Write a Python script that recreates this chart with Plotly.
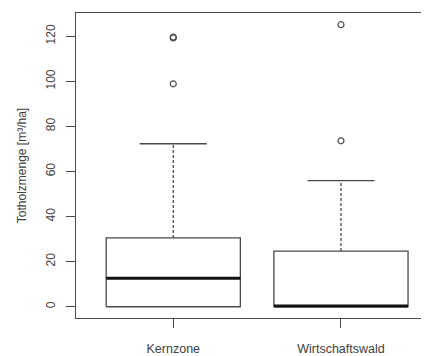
import plotly.graph_objects as go

categories = ["Kernzone", "Wirtschaftswald"]
q1_values = [0.0, 0.0]
medians = [12.6, 0.3]
q3_values = [30.5, 24.7]
lower_whiskers = [0.0, 0.0]
upper_whiskers = [72.3, 55.9]
outliers = [[119.2, 119.6, 98.9], [125.1, 73.6]]
y_ticks = [0, 20, 40, 60, 80, 100, 120]
y_title = "Totholzmenge [m³/ha]"

LINE = "#4a4a4a"
TEXT = "#404040"
HALF = 0.4
CAP = 0.2

fig = go.Figure()
for i, cat in enumerate(categories):
    c = i + 1
    # box
    fig.add_trace(go.Scatter(
        x=[c - HALF, c + HALF, c + HALF, c - HALF, c - HALF],
        y=[q1_values[i], q1_values[i], q3_values[i], q3_values[i], q1_values[i]],
        mode="lines", line=dict(color=LINE, width=1.3), hoverinfo="skip"))
    # upper whisker (dashed)
    fig.add_trace(go.Scatter(
        x=[c, c], y=[q3_values[i], upper_whiskers[i]],
        mode="lines", line=dict(color=LINE, width=1.3, dash="3px,2px"), hoverinfo="skip"))
    # upper cap
    fig.add_trace(go.Scatter(
        x=[c - CAP, c + CAP], y=[upper_whiskers[i], upper_whiskers[i]],
        mode="lines", line=dict(color=LINE, width=1.3), hoverinfo="skip"))
    # lower whisker
    fig.add_trace(go.Scatter(
        x=[c, c], y=[q1_values[i], lower_whiskers[i]],
        mode="lines", line=dict(color=LINE, width=1.3, dash="3px,2px"), hoverinfo="skip"))
    # median
    fig.add_trace(go.Scatter(
        x=[c - HALF, c + HALF], y=[medians[i], medians[i]],
        mode="lines", line=dict(color="#111111", width=3), hoverinfo="skip"))
    # outliers
    fig.add_trace(go.Scatter(
        x=[c] * len(outliers[i]), y=outliers[i],
        mode="markers",
        marker=dict(symbol="circle-open", size=6, color=LINE, line=dict(width=1.2, color=LINE)),
        hoverinfo="skip"))

fig.update_layout(
    width=421, height=348,
    margin=dict(l=68, r=0, t=5, b=34),
    paper_bgcolor="white", plot_bgcolor="white",
    showlegend=False,
    font=dict(family="Liberation Sans, Arial, sans-serif", size=12, color=TEXT),
    xaxis=dict(
        range=[0.42, 0.42 + 353 / 167.7],
        tickvals=[1, 2], ticktext=categories,
        showgrid=False, zeroline=False,
        showline=True, mirror=True, linecolor=LINE, linewidth=1.3,
        ticks="outside", ticklen=9, tickcolor=LINE, tickwidth=1.3,
        ticklabelstandoff=10,
        tickfont=dict(size=12.5, color=TEXT),
    ),
    yaxis=dict(
        range=[-5.0, 130.3],
        tickvals=y_ticks,
        showgrid=False, zeroline=False,
        showline=True, linecolor=LINE, linewidth=1.3,
        ticks="outside", ticklen=9, tickcolor=LINE, tickwidth=1.3,
        tickangle=-90,
        ticklabelstandoff=6,
        tickfont=dict(size=12, color=TEXT),
        title=dict(text=y_title, standoff=14, font=dict(size=12, color=TEXT)),
    ),
)

fig.write_html("out.html")
